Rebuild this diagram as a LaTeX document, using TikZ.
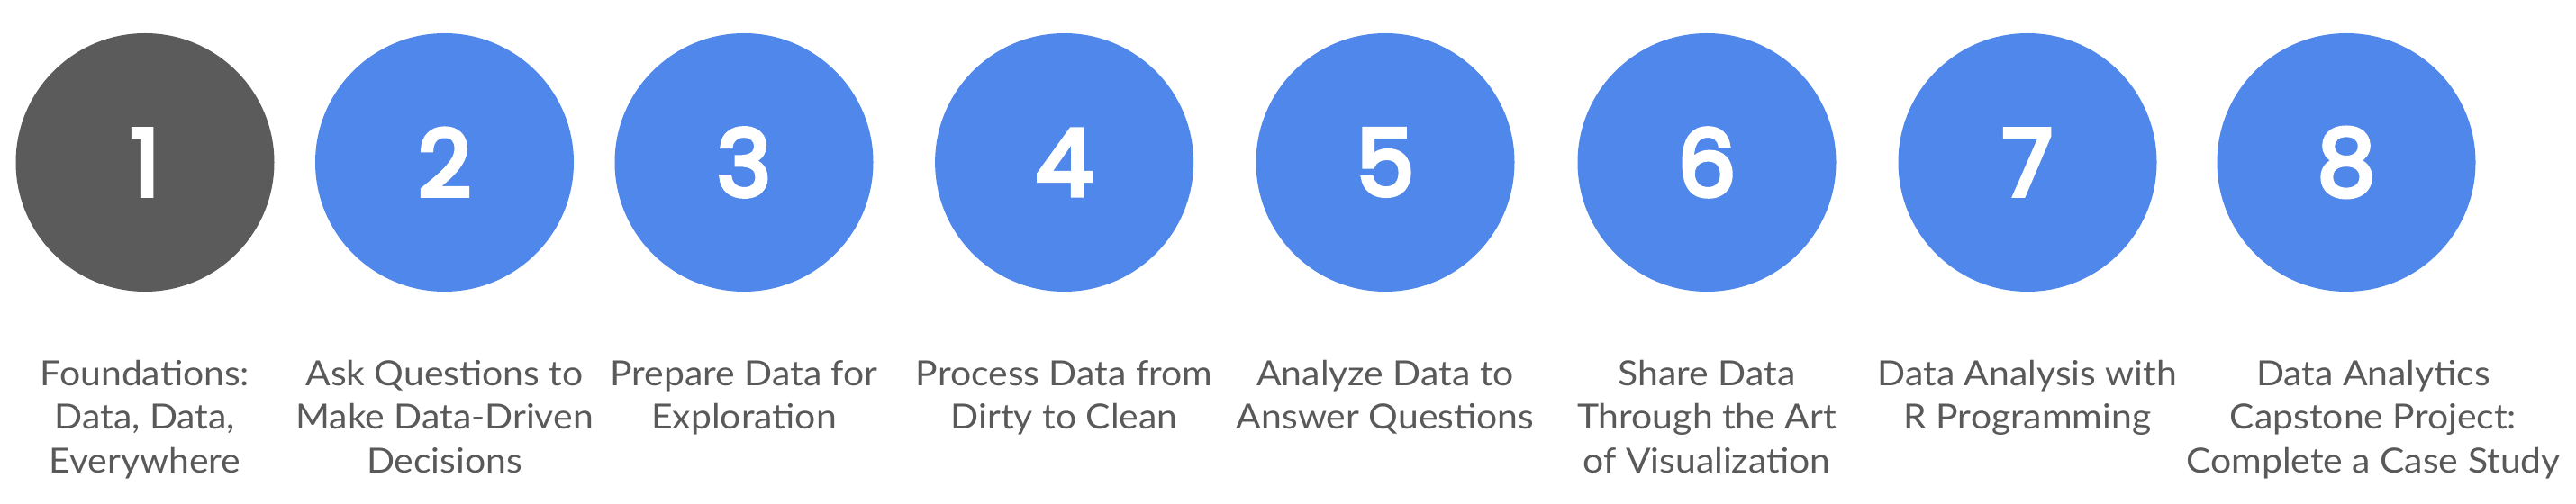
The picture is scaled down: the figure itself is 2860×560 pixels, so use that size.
\documentclass[tikz,border=0pt]{standalone}
\usepackage{fontspec}
\setmainfont{Lato}[FakeStretch=1.065]
\newfontfamily\numfont{Poppins}[FakeBold=5]
\definecolor{cblue}{HTML}{5087EA}
\definecolor{cgray}{HTML}{5B5B5B}
\definecolor{tgray}{HTML}{595959}
\begin{document}
\begin{tikzpicture}[x=0.5pt,y=-0.5pt,
  circ/.style={circle,minimum size=143.5pt,inner sep=0pt,fill=cblue,text=white,font=\numfont\fontsize{51pt}{51pt}\selectfont},
  lbl/.style={anchor=base,align=center,inner sep=0pt,text=tgray,font=\fontsize{19.2pt}{24.2pt}\selectfont}]
\useasboundingbox (0,0) rectangle (2860,560);
\node[circ,fill=cgray] (c1) at (161,180.5) {1};
\node[circ] (c2) at (493.5,180.5) {2};
\node[circ] (c3) at (826,180.5) {3};
\node[circ] (c4) at (1181.6,180.5) {4};
\node[circ] (c5) at (1538,180.5) {5};
\node[circ] (c6) at (1895,180.5) {6};
\node[circ] (c7) at (2251,180.5) {7};
\node[circ] (c8) at (2605,180.5) {8};
% base anchor = baseline of the last line
\node[lbl] (l1) at (161,525.3) {Foundations:\\Data, Data,\\Everywhere};
\node[lbl] (l2) at (493.5,525.3) {Ask Questions to\\Make Data-Driven\\Decisions};
\node[lbl] (l3) at (826,476.9) {Prepare Data for\\Exploration};
\node[lbl] (l4) at (1181.6,476.9) {Process Data from\\Dirty to Clean};
\node[lbl] (l5) at (1538,476.9) {Analyze Data to\\Answer Questions};
\node[lbl] (l6) at (1895,525.3) {Share Data\\Through the Art\\of Visualization};
\node[lbl] (l7) at (2251,476.9) {Data Analysis with\\R Programming};
\node[lbl] (l8) at (2635,525.3) {Data Analytics\\Capstone Project:\\Complete a Case Study};
\end{tikzpicture}
\end{document}
